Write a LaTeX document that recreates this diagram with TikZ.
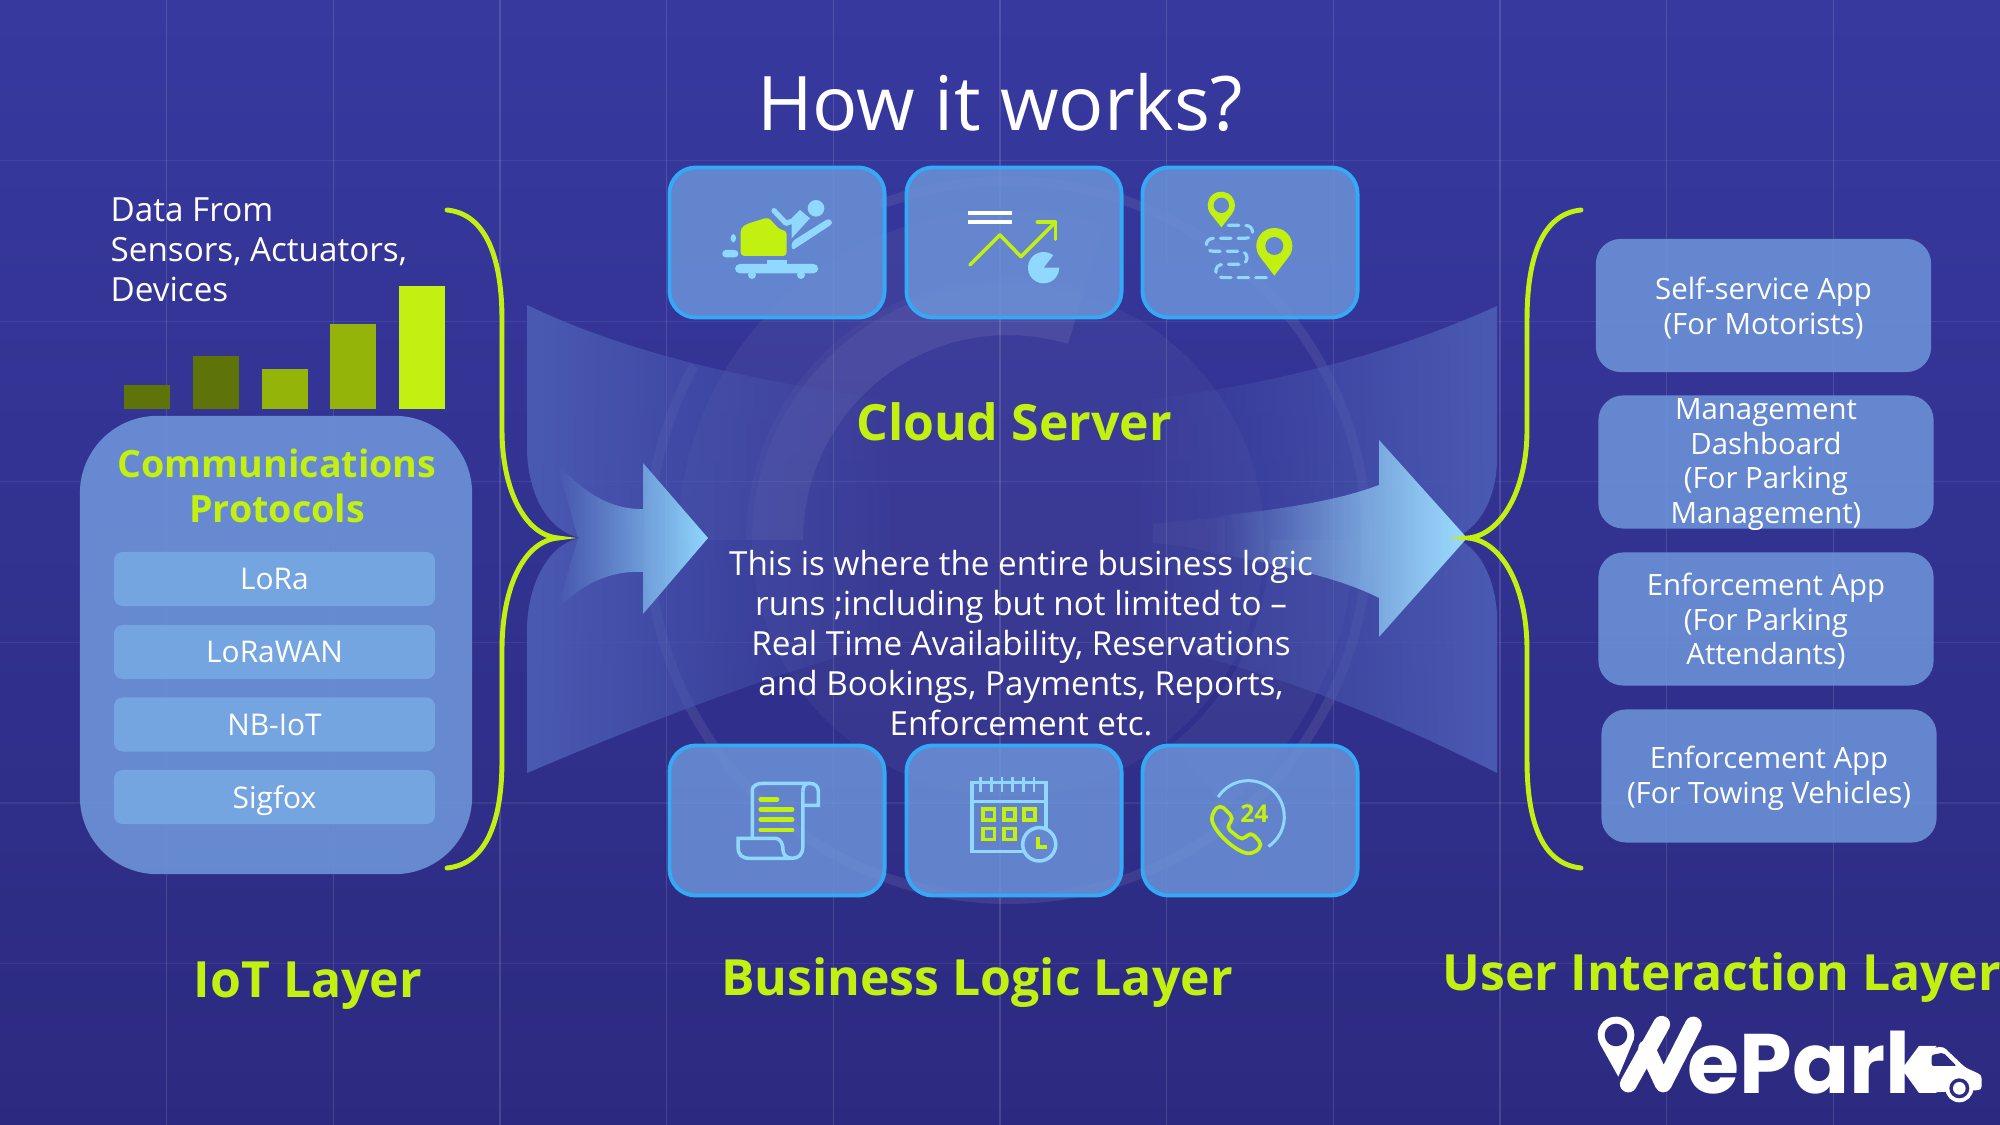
\documentclass[tikz,border=0pt]{standalone}
\usepackage{fontspec}
\setmainfont{Open Sans}
\newfontfamily\logofont{Poppins}
\usetikzlibrary{calc,fadings}

\definecolor{lime}{HTML}{C1F011}
\definecolor{limemid}{HTML}{95B40A}
\definecolor{limedark}{HTML}{5F7408}
\definecolor{sky}{HTML}{90D8FE}
\definecolor{panel}{HTML}{6C93D8}
\definecolor{iconback}{HTML}{6487CF}
\definecolor{edgeblue}{HTML}{34A9F6}
\definecolor{protofill}{HTML}{77A9E3}
\definecolor{fan}{HTML}{4A5AB2}
\definecolor{backtop}{HTML}{37399F}
\definecolor{backlow}{HTML}{2C2A80}
\definecolor{logoback}{HTML}{2D2C82}

\tikzfading[name=fadetoright, left color=transparent!0, right color=transparent!100]
\tikzfading[name=fadetoleft, left color=transparent!100, right color=transparent!0]

\tikzset{
  gridline/.style={white, opacity=.13, line width=.3pt},
  iconbox/.style={draw=edgeblue, line width=1.1pt, fill=panel, fill opacity=.85, rounded corners=7.5pt, minimum width=2.15cm, minimum height=1.5cm},
  appbox/.style={fill=panel, fill opacity=.88, rounded corners=7pt, minimum width=3.35cm, minimum height=1.33cm},
  apptext/.style={text=white, align=center, font=\fontsize{8.35}{9.8}\selectfont},
  protobox/.style={fill=protofill, fill opacity=.9, text opacity=1, text=white, rounded corners=2.5pt, minimum width=3.21cm, minimum height=.54cm, text depth=0pt, font=\fontsize{8.5}{10}\selectfont},
  heading/.style={text=lime, font=\fontsize{14.2}{16}\selectfont\bfseries, align=center},
  plain/.style={text=white, align=center, font=\fontsize{9.45}{11.35}\selectfont},
  brace/.style={draw=lime, line width=1.4pt, line cap=round},
  skyline/.style={draw=sky, line width=1pt},
  limeline/.style={draw=lime, line width=1pt}
}

\newcommand{\ringsector}[5]{\fill[white, opacity=#5] ($(1008,540)+(#3:#1)$) arc[start angle=#3, end angle=#4, radius=#1] -- ($(1008,540)+(#4:#2)$) arc[start angle=#4, end angle=#3, radius=#2] -- cycle;}

\begin{document}
\begin{tikzpicture}[x=.01cm, y=-.01cm]
\useasboundingbox (0,0) rectangle (2000,1125);
\fill[top color=backtop, bottom color=backlow] (0,0) rectangle (2000,1125);

\foreach \gx in {166.7,333.3,500,666.7,833.3,1000,1166.7,1333.3,1500,1666.7,1833.3}
  \draw[gridline] (\gx,0) -- (\gx,1125);
\foreach \gy in {160.6,321.2,481.8,642.4,803,963.6}
  \draw[gridline, opacity=.07] (0,\gy) -- (2000,\gy);

\fill[white, opacity=.045] (1008,540) circle[radius=256];
\ringsector{205}{262}{-180}{-73}{.08}
\ringsector{262}{330}{-180}{-73}{.05}
\ringsector{262}{345}{0}{51}{.05}
\draw[white, opacity=.08, line width=2.8pt] ($(1008,540)+(-111:359)$) arc[start angle=-111, end angle=209, radius=359];

\fill[fan, path fading=fadetoright] (527,305) .. controls (640,360) and (780,385) .. (900,402) -- (900,640) .. controls (780,670) and (640,725) .. (527,773) -- (527,630) .. controls (527,590) and (545,545) .. (580,538) .. controls (545,530) and (527,490) .. (527,447) -- cycle;
\fill[fan, path fading=fadetoleft] (1497,306) .. controls (1400,350) and (1280,385) .. (1130,402) -- (1130,640) .. controls (1280,670) and (1400,725) .. (1497,773) -- (1497,620) .. controls (1497,590) and (1485,550) .. (1455,538) .. controls (1485,525) and (1497,490) .. (1497,457) -- cycle;

\fill[sky, path fading=fadetoleft] (557,463) .. controls (580,490) and (610,510) .. (643,509) -- (643,463) -- (708,538) -- (643,614) -- (643,572) .. controls (610,570) and (580,585) .. (557,610) -- (578,538) -- cycle;
\fill[white, opacity=.03] (1153,524) .. controls (1190,520) and (1210,518) .. (1225,517) -- (1225,557) .. controls (1200,548) and (1175,545) .. (1153,543) -- cycle;
\fill[sky!90!white, path fading=fadetoleft] (1215,516) .. controls (1280,510) and (1340,500) .. (1379,485) -- (1379,440) -- (1467,538) -- (1379,637) -- (1379,598) .. controls (1340,578) and (1280,565) .. (1215,553) -- cycle;

\draw[brace] (447,210) .. controls (487,214) and (502,260) .. (502,320) -- (502,430) .. controls (502,490) and (525,535) .. (558,538) .. controls (525,541) and (502,585) .. (502,650) -- (502,760) .. controls (502,820) and (487,864) .. (447,868);
\draw[brace] (1581,210) .. controls (1541,214) and (1527,260) .. (1527,320) -- (1527,430) .. controls (1527,490) and (1501,535) .. (1468,538) .. controls (1501,541) and (1527,585) .. (1527,650) -- (1527,760) .. controls (1527,820) and (1541,864) .. (1581,868);

\node[plain, font=\fontsize{21.4}{26}\selectfont] (title) at (1000,102) {How it works?};
\node[heading] (cloud) at (1014,422) {Cloud Server};
\node[plain] (logic) at (1021,643) {This is where the entire business logic\\runs ;including but not limited to --\\Real Time Availability, Reservations\\and Bookings, Payments, Reports,\\Enforcement etc.};

\foreach \rowname/\cy in {top/242.5,low/820.5}
  \foreach \colname/\cx in {a/777,b/1014,c/1250}
    \node[iconbox] (\rowname\colname) at (\cx,\cy) {};

\node[plain, align=left, anchor=west, inner sep=0pt] (source) at (110,250) {Data From\\Sensors, Actuators,\\Devices};
\fill[limedark] (124,385) rectangle (170,409);
\fill[limedark] (193,356) rectangle (239,409);
\fill[limemid] (262,369) rectangle (308,409);
\fill[limemid] (330,324) rectangle (376,409);
\fill[lime] (399,286) rectangle (445,409);

\node[fill=panel, fill opacity=.9, rounded corners=22pt, minimum width=3.92cm, minimum height=4.58cm] (protopanel) at (276,645) {};
\node[heading, font=\fontsize{10.7}{12.8}\selectfont\bfseries] (prototitle) at (277,486) {Communications\\Protocols};
\foreach \pname/\py/\ptext in {lora/579/LoRa,lorawan/652/LoRaWAN,nbiot/724.5/NB-IoT,sigfox/797/Sigfox}
  \node[protobox] (\pname) at (274.5,\py) {\ptext};

\foreach \appname/\ax/\ay/\atext in {motorist/1763.5/305.5/{Self-service App\\(For Motorists)},manager/1766/462/{Management\\Dashboard\\(For Parking\\Management)},attendant/1766/619/{Enforcement App\\(For Parking\\Attendants)},towing/1769/776/{Enforcement App\\(For Towing Vehicles)}} {
  \node[appbox] (\appname) at (\ax,\ay) {};
  \node[apptext] (\appname text) at (\ax,\ay+2.5) {\atext};
}

\node[heading] (iotlayer) at (308,986) {IoT Layer};
\node[heading] (logiclayer) at (977,983) {Business Logic Layer};
\node[heading] (userlayer) at (1722,978) {User Interaction Layer};

\begin{scope}[shift={(630,160)}, scale=.3333]
\fill[lime, rounded corners=1pt] (332,288) -- (332,205) -- (350,192) -- (415,172) -- (450,210) -- (470,212) -- (470,288) -- cycle;
\fill[sky] (558,145) circle[radius=25];
\draw[sky, line width=1.5pt, line cap=round, line join=round] (432,152) -- (468,190) -- (520,172);
\fill[sky] (485,235) -- (485,175) -- (510,150) -- (540,175) -- cycle;
\fill[sky, rounded corners=1pt] (485,272) -- (485,245) -- (598,174) -- (610,190) -- cycle;
\fill[sky, rounded corners=1.4pt] (315,312) rectangle (565,340);
\fill[sky] (410,300) rectangle (470,315);
\fill[sky] (366,345) circle[radius=12];
\fill[sky] (513,345) circle[radius=12];
\fill[sky, rounded corners=1pt] (277,270) rectangle (325,292);
\fill[sky, rounded corners=1pt] (302,222) rectangle (318,247);

\draw[white, line width=1.1pt] (1015,160) -- (1145,160);
\draw[white, line width=1.1pt] (1015,187) -- (1145,187);
\draw[limeline, line cap=round, line join=round] (1020,315) -- (1110,225) -- (1173,290) -- (1275,188);
\draw[limeline, line cap=round, line join=round] (1222,186) -- (1277,186) -- (1277,238);
\fill[sky] (1241,323) -- ($(1241,323)+(-52:47)$) arc[start angle=-52, end angle=-360, radius=47] -- cycle;
\end{scope}

\begin{scope}[shift={(1130,160)}, scale=.3333]
\draw[sky, line width=.9pt, dash pattern=on 3pt off 2pt, line cap=round] (295,196) -- (345,196) .. controls (375,196) and (375,235) .. (345,235) -- (250,235) .. controls (222,235) and (222,274) .. (250,274) -- (330,274) .. controls (358,274) and (358,313) .. (330,313) -- (280,313) .. controls (250,313) and (250,353) .. (280,353) -- (425,353);
\fill[lime] (274,202) -- ($(274,136)+(140:41)$) arc[start angle=140, end angle=400, radius=41] -- cycle;
\fill[iconback] (274,136) circle[radius=23];
\fill[lime] (433,347) -- ($(433,258)+(140:54)$) arc[start angle=140, end angle=400, radius=54] -- cycle;
\fill[iconback] (433,258) circle[radius=27];
\end{scope}

\begin{scope}[shift={(640,730)}, xscale=.4719, yscale=.3333]
\draw[skyline] (238,325) -- (238,180) .. controls (238,168) and (248,160) .. (260,160) -- (358,160) .. controls (372,160) and (378,170) .. (378,185) -- (378,226) -- (345,226);
\draw[skyline] (345,185) .. controls (345,170) and (350,160) .. (358,160);
\draw[skyline] (345,185) -- (345,350) .. controls (345,375) and (335,385) .. (322,385) -- (232,385) .. controls (215,385) and (208,372) .. (208,355) -- (208,325) -- (285,325) .. controls (300,325) and (303,345) .. (303,360) .. controls (303,375) and (312,385) .. (322,385);
\foreach \ly/\lx in {208/290,238/322,269/322,300/322}
  \draw[draw=lime, line width=1.4pt, line cap=round] (256,\ly) -- (\lx,\ly);
\draw[skyline] (703,157) rectangle (860,365);
\draw[skyline] (703,215) -- (860,215);
\foreach \tx in {722,745,767,790,812,835}
  \draw[sky, line width=.8pt] (\tx,142) -- (\tx,185);
\foreach \sx/\sy in {739/253,783/253,825/253,739/312,783/312} {
  \fill[lime] (\sx-16,\sy-22) rectangle (\sx+16,\sy+22);
  \fill[iconback] (\sx-8,\sy-11) rectangle (\sx+8,\sy+11);
}
\fill[iconback] (846,343) ellipse[x radius=35, y radius=50];
\draw[skyline] (846,343) ellipse[x radius=35, y radius=50];
\draw[draw=lime, line width=1.2pt] (844,322) -- (844,350) -- (862,350);
\end{scope}

\begin{scope}[shift={(1120,750)}, scale=.3333]
\draw[sky, line width=.85pt] ($(385,200)+(-147:108)$) arc[start angle=-147, end angle=56, radius=108];
\draw[limeline, line width=1.05pt, line join=round, rounded corners=1.5pt] (300,163) -- (342,205) -- (318,232) -- (368,272) -- (392,245) -- (428,285) -- (402,310) .. controls (350,310) and (275,240) .. (276,190) -- cycle;
\node[text=lime, font=\fontsize{7}{8}\selectfont\bfseries, inner sep=0pt] (hours) at (403,190) {24};
\end{scope}

\begin{scope}[shift={(1560,980)}, scale=.3333]
\fill[white] (175,290) -- ($(168,165)+(150:55)$) arc[start angle=150, end angle=390, radius=55] -- cycle;
\fill[logoback] (168,165) circle[radius=34];
\draw[white, line width=4.8pt, line cap=round, line join=round] (205,312) -- (305,133);
\draw[white, line width=4.8pt, line cap=round, line join=round] (260,205) -- (310,312) -- (400,135);
\node[anchor=base west, inner sep=0pt, text=white, font=\logofont\bfseries\fontsize{24}{28}\selectfont] (brand) at (380,340) {ePark};
\fill[white, rounded corners=1pt] (1062,262) -- (1105,205) -- (1150,200) -- (1215,262) -- (1265,285) -- (1265,330) -- (1100,338) -- cycle;
\fill[logoback, rounded corners=.6pt] (1115,225) -- (1150,218) -- (1190,258) -- (1115,258) -- cycle;
\fill[white] (1198,325) circle[radius=42];
\fill[logoback] (1198,325) circle[radius=30];
\fill[white] (1198,325) circle[radius=19];
\end{scope}
\end{tikzpicture}
\end{document}
